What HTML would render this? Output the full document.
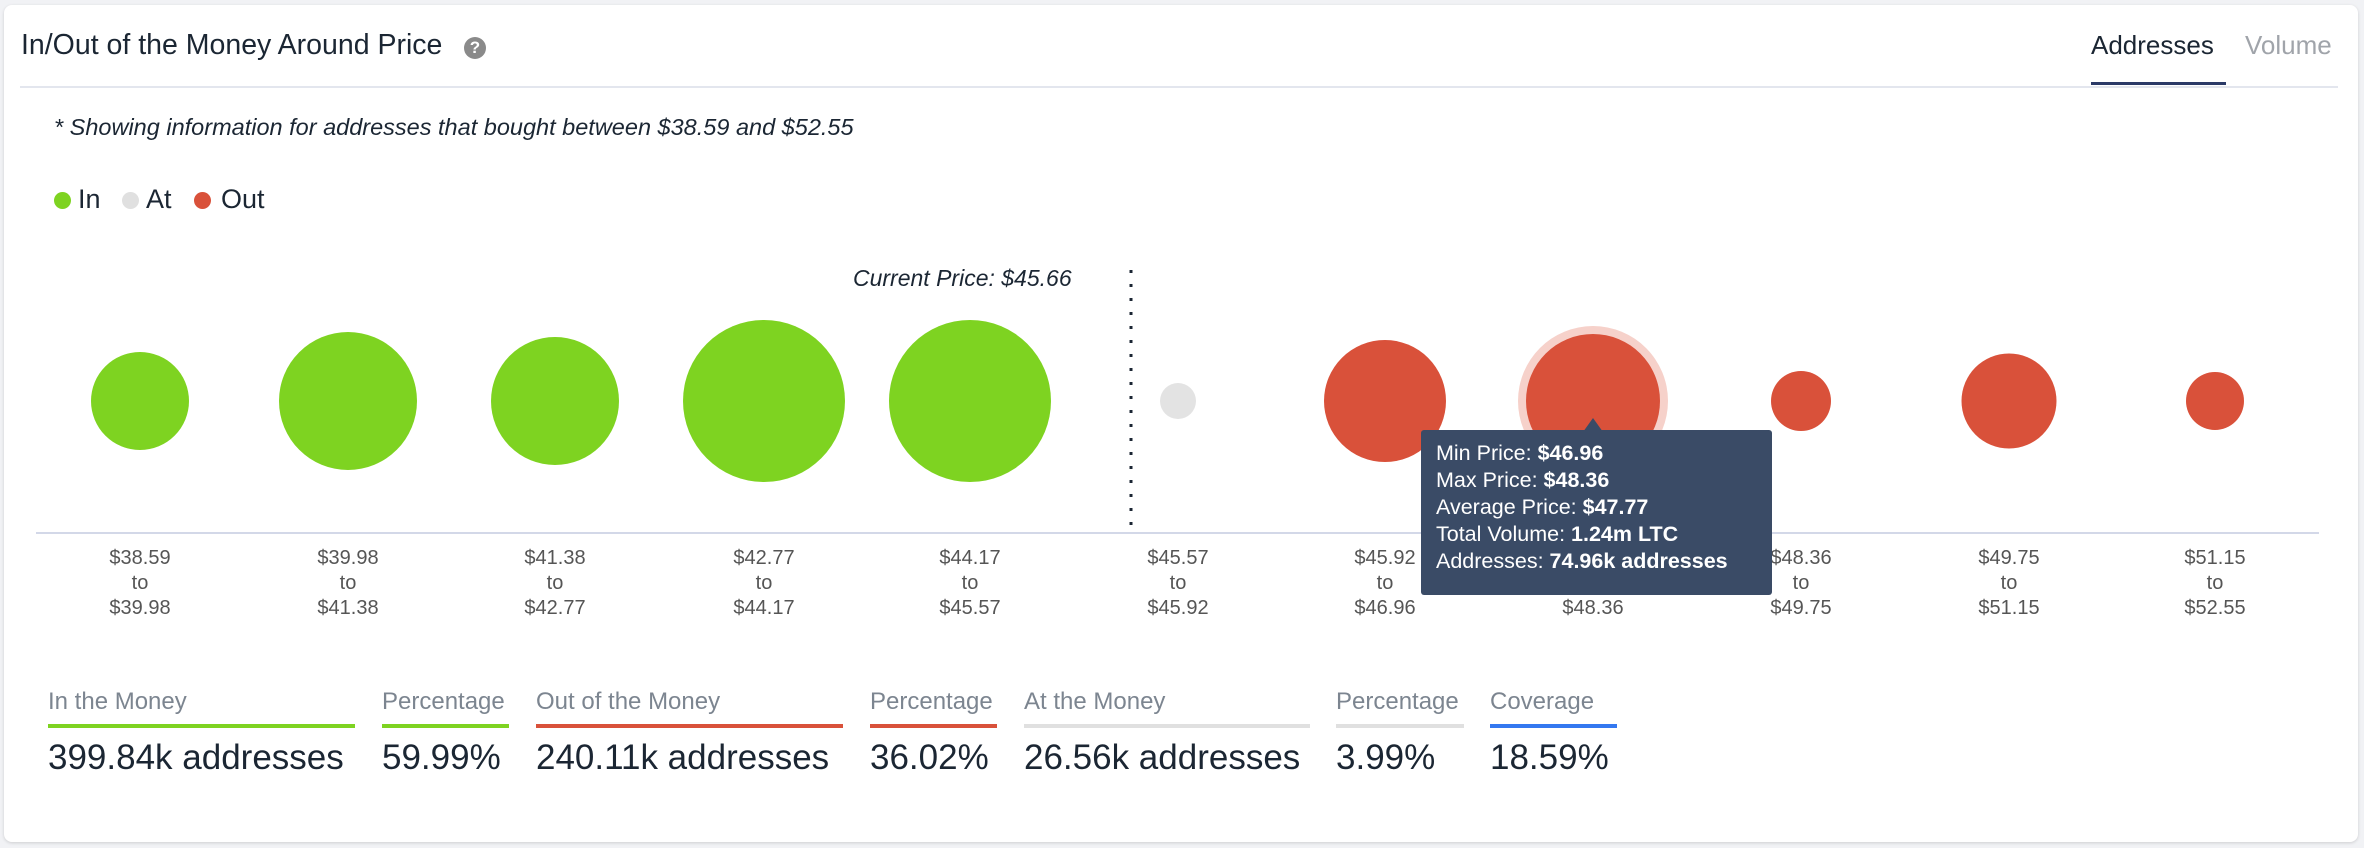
<!DOCTYPE html>
<html><head><meta charset="utf-8"><style>
body{margin:0;width:2364px;height:848px;background:#f1f2f5;font-family:"Liberation Sans",sans-serif;overflow:hidden;position:relative}
.card{position:absolute;left:4px;top:5px;width:2354px;height:837px;background:#fff;border-radius:8px;box-shadow:0 1px 3px rgba(0,0,0,.15)}
.a{position:absolute;white-space:nowrap}
.lbl{position:absolute;text-align:center;font-size:20px;color:#555;line-height:25px;width:120px}
.hd{position:absolute;top:688px;font-size:24px;color:#7c8590}
.bar{position:absolute;top:724px;height:4px}
.val{position:absolute;top:738px;font-size:35px;color:#1b2633}
</style></head><body>
<div class="card"></div>
<div class="a" style="left:21px;top:29px;font-size:28.5px;color:#1b2633">In/Out of the Money Around Price</div>
<div class="a" style="left:464px;top:37px;width:22px;height:22px;border-radius:50%;background:#8a8a8a;color:#fff;font-size:17px;font-weight:bold;text-align:center;line-height:22px">?</div>
<div class="a" style="left:2091px;top:30px;font-size:26px;color:#1b2633">Addresses</div>
<div class="a" style="left:2091px;top:82px;width:135px;height:3px;background:#2b3a67"></div>
<div class="a" style="left:2245px;top:30px;font-size:26px;color:#a0a4aa">Volume</div>
<div class="a" style="left:20px;top:86px;width:2318px;height:2px;background:#e3e6ee"></div>
<div class="a" style="left:54px;top:114px;font-size:23.5px;font-style:italic;color:#1b2633">* Showing information for addresses that bought between $38.59 and $52.55</div>
<div class="a" style="left:54px;top:192px;width:17px;height:17px;border-radius:50%;background:#7ed321"></div>
<div class="a" style="left:78px;top:184px;font-size:27px;color:#1b2633">In</div>
<div class="a" style="left:122px;top:192px;width:17px;height:17px;border-radius:50%;background:#e0e0e0"></div>
<div class="a" style="left:146px;top:184px;font-size:27px;color:#1b2633">At</div>
<div class="a" style="left:194px;top:192px;width:17px;height:17px;border-radius:50%;background:#d9513a"></div>
<div class="a" style="left:221px;top:184px;font-size:27px;color:#1b2633">Out</div>
<div class="a" style="left:853px;top:265px;font-size:23px;font-style:italic;color:#1b2633">Current Price: $45.66</div>
<svg class="a" style="left:0;top:0" width="2364" height="848">
<line x1="1131" y1="270" x2="1131" y2="533" stroke="#1b2633" stroke-width="3" stroke-dasharray="3,11"/>
<line x1="36" y1="533" x2="2319" y2="533" stroke="#d3d8e8" stroke-width="2"/>
<g fill="#7ed321"><circle cx="140" cy="401" r="49"/><circle cx="348" cy="401" r="69"/><circle cx="555" cy="401" r="64"/><circle cx="764" cy="401" r="81"/><circle cx="970" cy="401" r="81"/></g>
<circle cx="1178" cy="401" r="18" fill="#e3e3e3"/>
<circle cx="1593" cy="401" r="75" fill="#f6d1ca"/>
<g fill="#d9513a"><circle cx="1385" cy="401" r="61"/><circle cx="1593" cy="401" r="67"/><circle cx="1801" cy="401" r="30"/><circle cx="2009" cy="401" r="47.5"/><circle cx="2215" cy="401" r="29"/></g>
</svg>
<div class="lbl" style="left:80px;top:546px">$38.59<br>to<br>$39.98</div>
<div class="lbl" style="left:288px;top:546px">$39.98<br>to<br>$41.38</div>
<div class="lbl" style="left:495px;top:546px">$41.38<br>to<br>$42.77</div>
<div class="lbl" style="left:704px;top:546px">$42.77<br>to<br>$44.17</div>
<div class="lbl" style="left:910px;top:546px">$44.17<br>to<br>$45.57</div>
<div class="lbl" style="left:1118px;top:546px">$45.57<br>to<br>$45.92</div>
<div class="lbl" style="left:1325px;top:546px">$45.92<br>to<br>$46.96</div>
<div class="lbl" style="left:1533px;top:546px">$46.96<br>to<br>$48.36</div>
<div class="lbl" style="left:1741px;top:546px">$48.36<br>to<br>$49.75</div>
<div class="lbl" style="left:1949px;top:546px">$49.75<br>to<br>$51.15</div>
<div class="lbl" style="left:2155px;top:546px">$51.15<br>to<br>$52.55</div>
<svg class="a" style="left:1583px;top:418px" width="20" height="14"><polygon points="10,0 20,14 0,14" fill="#3a4b66"/></svg>
<div class="a" style="left:1421px;top:430px;width:351px;height:165px;background:#3a4b66;border-radius:3px;color:#fff;font-size:21.5px;line-height:27px;padding:10px 0 0 15px;box-sizing:border-box">Min Price: <b>$46.96</b><br>Max Price: <b>$48.36</b><br>Average Price: <b>$47.77</b><br>Total Volume: <b>1.24m LTC</b><br>Addresses: <b>74.96k addresses</b></div>
<div class="hd" style="left:48px">In the Money</div><div class="bar" style="left:48px;width:307px;background:#7ed321"></div><div class="val" style="left:48px">399.84k addresses</div>
<div class="hd" style="left:382px">Percentage</div><div class="bar" style="left:382px;width:127px;background:#7ed321"></div><div class="val" style="left:382px">59.99%</div>
<div class="hd" style="left:536px">Out of the Money</div><div class="bar" style="left:536px;width:307px;background:#d9513a"></div><div class="val" style="left:536px">240.11k addresses</div>
<div class="hd" style="left:870px">Percentage</div><div class="bar" style="left:870px;width:127px;background:#d9513a"></div><div class="val" style="left:870px">36.02%</div>
<div class="hd" style="left:1024px">At the Money</div><div class="bar" style="left:1024px;width:286px;background:#e0e0e0"></div><div class="val" style="left:1024px">26.56k addresses</div>
<div class="hd" style="left:1336px">Percentage</div><div class="bar" style="left:1336px;width:128px;background:#e0e0e0"></div><div class="val" style="left:1336px">3.99%</div>
<div class="hd" style="left:1490px">Coverage</div><div class="bar" style="left:1490px;width:127px;background:#3478f0"></div><div class="val" style="left:1490px">18.59%</div>
</body></html>
